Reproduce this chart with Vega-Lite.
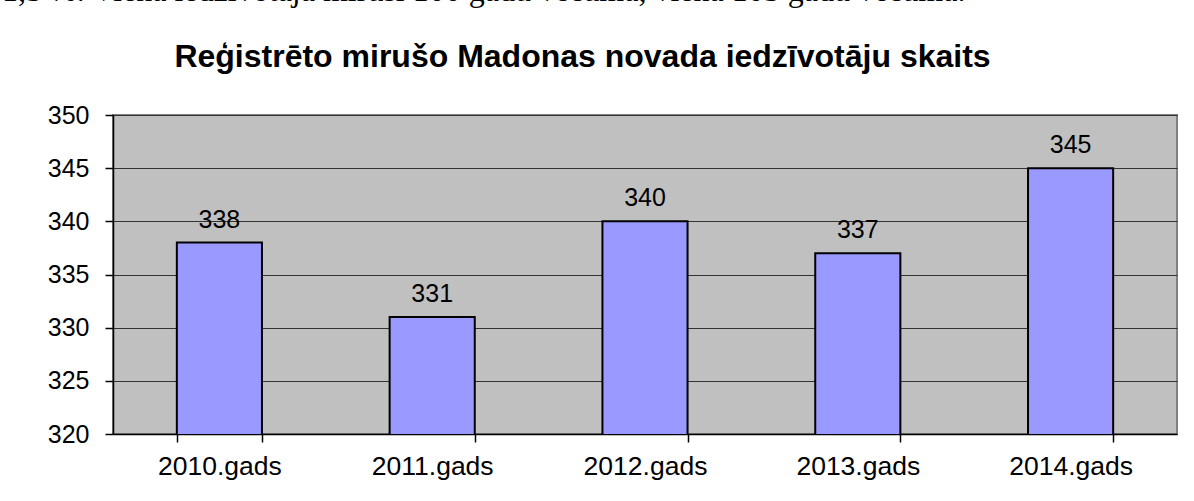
{
  "$schema": "https://vega.github.io/schema/vega-lite/v6.json",
  "width": 1064,
  "height": 319,
  "autosize": {"type": "none"},
  "padding": {"left": 113, "top": 115, "right": 17, "bottom": 67},
  "background": "white",
  "title": {
    "text": "1,5 %. Viena iedzīvotāja mirusi 100 gadu vecumā, viena 105 gadu vecumā.",
    "anchor": "start",
    "frame": "group",
    "dx": -111,
    "font": "Liberation Serif",
    "fontSize": 32,
    "fontWeight": "normal",
    "color": "black",
    "baseline": "alphabetic",
    "offset": 7
  },
  "data": {
    "values": [
      {"gads": "2010.gads", "skaits": 338},
      {"gads": "2011.gads", "skaits": 331},
      {"gads": "2012.gads", "skaits": 340},
      {"gads": "2013.gads", "skaits": 337},
      {"gads": "2014.gads", "skaits": 345}
    ]
  },
  "config": {
    "view": {"fill": "#C0C0C0", "stroke": "#808080", "strokeWidth": 2},
    "axis": {
      "labelFont": "Liberation Sans",
      "labelColor": "black",
      "domainColor": "black",
      "domainWidth": 1.5,
      "tickColor": "black",
      "tickWidth": 1.5,
      "tickSize": 8
    }
  },
  "encoding": {
    "x": {
      "field": "gads",
      "type": "nominal",
      "sort": null,
      "scale": {"paddingInner": 0.6, "paddingOuter": 0.3},
      "axis": {
        "labelAngle": 0,
        "labelFontSize": 26.5,
        "labelPadding": 11,
        "tickBand": "extent",
        "grid": false,
        "title": null
      }
    },
    "y": {
      "field": "skaits",
      "type": "quantitative",
      "scale": {"domain": [320, 350], "nice": false, "zero": false},
      "axis": {
        "values": [320, 325, 330, 335, 340, 345, 350],
        "labelFontSize": 25,
        "grid": true,
        "gridColor": "#333333",
        "gridWidth": 1,
        "labelPadding": 16,
        "title": "Reģistrēto mirušo Madonas novada iedzīvotāju skaits",
        "titleAngle": 0,
        "titleAlign": "center",
        "titleBaseline": "alphabetic",
        "titleX": 469,
        "titleY": -49,
        "titleFont": "Liberation Sans",
        "titleFontSize": 32,
        "titleFontWeight": "bold",
        "titleColor": "black"
      }
    }
  },
  "layer": [
    {
      "mark": {"type": "bar", "fill": "#9999FF", "stroke": "black", "strokeWidth": 2, "clip": true}
    },
    {
      "mark": {
        "type": "text",
        "font": "Liberation Sans",
        "fontSize": 25,
        "color": "black",
        "baseline": "alphabetic",
        "dy": -15
      },
      "encoding": {"text": {"field": "skaits", "type": "quantitative"}}
    }
  ]
}
